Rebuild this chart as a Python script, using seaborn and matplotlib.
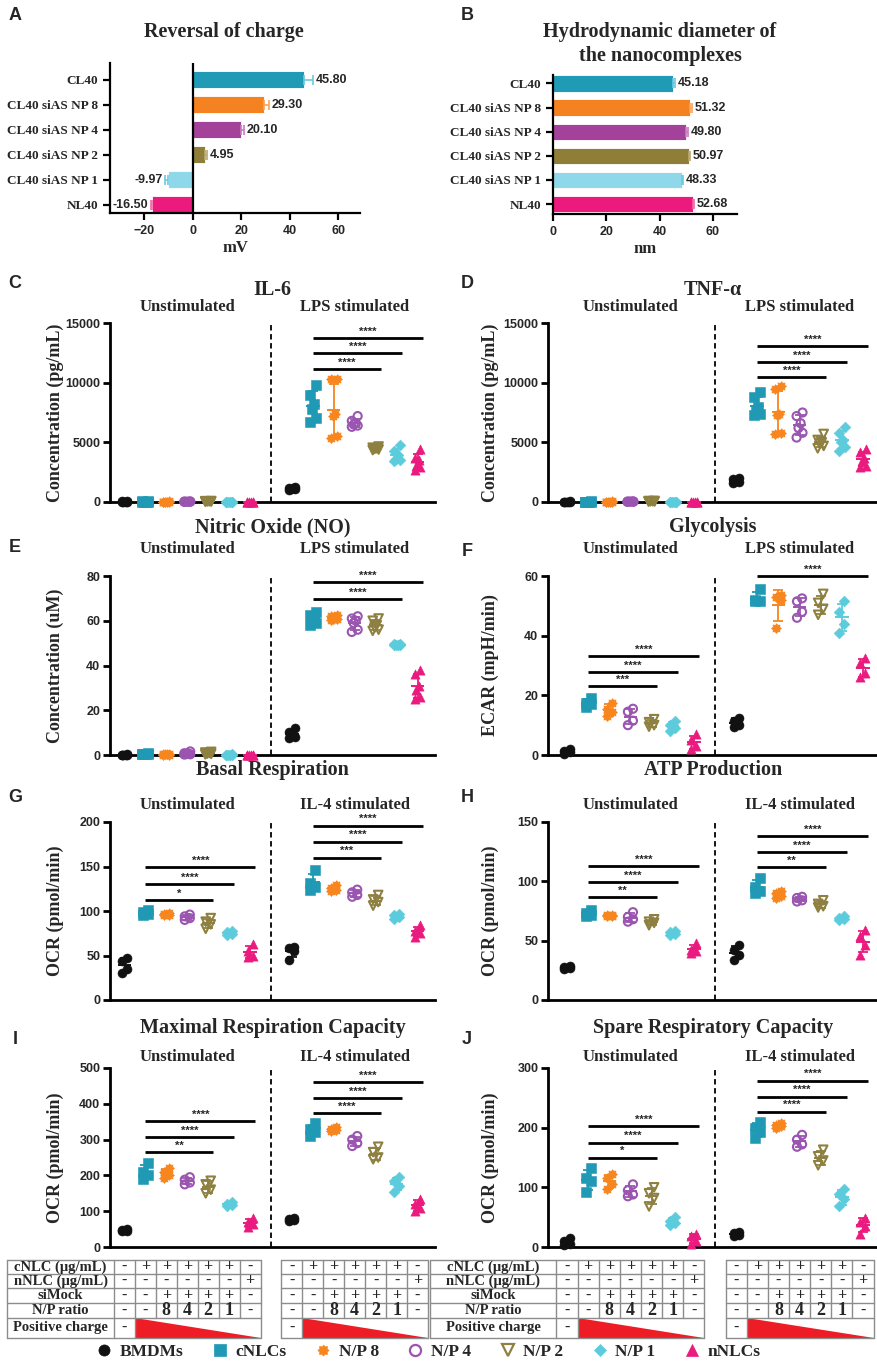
import numpy as np
import matplotlib
matplotlib.use('Agg')
import matplotlib.pyplot as plt
import seaborn as sns
from matplotlib.lines import Line2D
from matplotlib.patches import Polygon
from matplotlib import transforms

sns.set_style('ticks')
plt.rcParams['font.family'] = ['Liberation Serif', 'DejaVu Serif']
plt.rcParams['font.weight'] = 'bold'
SANS = ['Liberation Sans', 'DejaVu Sans']

W, H = 878, 1365

# ---------------- data ----------------
groups = ['BMDMs', 'cNLCs', 'N/P 8', 'N/P 4', 'N/P 2', 'N/P 1', 'nNLCs']

bar_labels = ['CL40', 'CL40 siAS NP 8', 'CL40 siAS NP 4', 'CL40 siAS NP 2',
              'CL40 siAS NP 1', 'NL40']
charge_mv = [45.80, 29.30, 20.10, 4.95, -9.97, -16.50]
charge_sd = [3.8, 2.2, 1.0, 1.0, 1.2, 0.8]
size_nm = [45.18, 51.32, 49.80, 50.97, 48.33, 52.68]
size_sd = [0.5, 0.9, 0.7, 0.4, 0.3, 0.3]

il6_unstim = [[40, 20, 60, 30, 10, 50], [30, 50, 20, 40, 10, 60], [20, 40, 30, 10, 50, 30],
              [30, 20, 40, 50, 10, 20], [60, 80, 40, 30, 70, 50], [20, 10, 30, 40, 20, 10],
              [10, 20, 30, 10, 20, 30]]
il6_lps = [[1000, 1100, 1250, 1150, 1050, 1200], [9800, 9000, 8200, 7800, 7000, 6700],
           [10300, 10300, 7400, 7200, 5500, 5400], [7200, 6800, 6600, 6500, 6400, 6300],
           [4650, 4550, 4500, 4450, 4400, 4350], [4800, 4300, 3900, 3600, 3400, 3500],
           [4400, 3700, 3500, 3000, 2900, 2700]]
il6_sig = [(8, 4, 11150, '****'), (8, 5, 12500, '****'), (8, 6, 13750, '****')]

tnf_unstim = [[30, 50, 20, 40, 10, 30], [40, 20, 30, 50, 10, 20], [30, 10, 40, 20, 50, 30],
              [20, 40, 30, 10, 50, 40], [70, 50, 90, 60, 40, 80], [20, 30, 10, 40, 20, 30],
              [10, 30, 20, 10, 30, 20]]
tnf_lps = [[1700, 1900, 2000, 1800, 1600, 1750], [9200, 8800, 8000, 7700, 7400, 7300],
           [9700, 9500, 7400, 7300, 5800, 5700], [7500, 7200, 6600, 6200, 5800, 5400],
           [5700, 5200, 5000, 4900, 4700, 4500], [6300, 5800, 5200, 5000, 4600, 4300],
           [4400, 4200, 3700, 3400, 3000, 2900]]
tnf_sig = [(8, 4, 10480, '****'), (8, 5, 11740, '****'), (8, 6, 13080, '****')]

no_unstim = [[0.2, 0.1, 0.3, 0.0, 0.2, 0.1], [0.6, 0.4, 0.5, 0.3, 0.7, 0.5],
             [0.3, 0.5, 0.2, 0.4, 0.1, 0.3], [1.6, 0.8, 0.4, 0.2, 0.6, 0.3],
             [1.4, 0.9, 0.6, 0.3, 1.1, 0.5], [0.2, 0.1, 0.3, 0.1, 0.2, 0.0],
             [0.1, 0.0, 0.2, 0.1, 0.0, 0.1]]
no_lps = [[12, 10.5, 9, 8, 7.5, 8.5], [64, 62.5, 61, 60, 59, 58],
          [62.5, 62, 61.5, 61, 60.8, 60.5], [62, 61, 60, 59, 56, 55],
          [61, 60, 58, 57, 56, 55.5], [49.6, 49.4, 49.2, 49.0, 49.1, 49.3],
          [38, 36, 31, 29, 26, 25]]
no_sig = [(8, 5, 69.7, '****'), (8, 6, 77.4, '****')]

ecar_unstim = [[2.0, 1.5, 1.0, 0.5], [19.0, 17.5, 17.0, 16.0], [17.5, 15.5, 14.5, 13.0],
               [15.5, 14.5, 11.5, 10.0], [12.0, 11.0, 10.0, 9.5], [11.5, 10.0, 9.0, 8.0],
               [7.0, 5.0, 3.0, 2.0]]
ecar_lps = [[12.5, 11.5, 10.0, 9.5], [55.5, 52.0, 51.5, 51.5], [53.5, 53.0, 52.0, 42.5],
            [52.5, 51.5, 48.0, 46.0], [54.0, 51.0, 49.0, 47.0], [51.5, 48.0, 44.0, 41.0],
            [32.5, 31.0, 27.5, 26.0]]
ecar_sig = [(0, 4, 23, '***'), (0, 5, 27.8, '****'), (0, 6, 33.1, '****'), (8, 6, 60, '****')]

basal_unstim = [[47, 44, 35, 30], [101, 99, 97, 96], [98, 97, 96, 95], [96, 94, 92, 90],
                [92, 88, 85, 80], [77, 76, 74, 73], [63, 55, 50, 48]]
basal_il4 = [[60, 58, 55, 45], [146, 132, 127, 124], [129, 126, 124, 123],
             [124, 121, 118, 116], [118, 113, 110, 106], [97, 95, 93, 91], [84, 78, 75, 71]]
basal_sig = [(0, 4, 112, '*'), (0, 5, 130, '****'), (0, 6, 149, '****'),
             (8, 4, 160, '***'), (8, 5, 178, '****'), (8, 6, 196, '****')]

atp_unstim = [[29, 28, 27, 26], [76, 73, 72, 71], [72, 71.5, 71, 70.5], [74, 70, 68, 66],
              [68, 66, 65, 63], [58, 57, 56, 55], [48, 42, 41, 40]]
atp_il4 = [[46, 42, 38, 34], [103, 95, 92, 90], [92, 90, 88, 86], [87, 86, 84, 83],
           [84, 81, 79, 78], [71, 69, 68, 67], [59, 54, 46, 38]]
atp_sig = [(0, 4, 86.7, '**'), (0, 5, 99.6, '****'), (0, 6, 112.6, '****'),
           (8, 4, 112, '**'), (8, 5, 124.7, '****'), (8, 6, 138.2, '****')]

max_unstim = [[50, 47, 45, 44], [235, 210, 200, 190], [220, 210, 200, 192],
              [195, 188, 180, 175], [185, 175, 160, 150], [125, 120, 116, 114],
              [80, 70, 65, 55]]
max_il4 = [[82, 78, 75, 72], [345, 330, 320, 310], [335, 330, 327, 323],
           [310, 300, 290, 282], [280, 265, 250, 245], [195, 185, 170, 155],
           [135, 120, 110, 100]]
max_sig = [(0, 4, 264.5, '**'), (0, 5, 306.7, '****'), (0, 6, 351.8, '****'),
           (8, 4, 373, '****'), (8, 5, 415.6, '****'), (8, 6, 460.6, '****')]

spare_unstim = [[15, 10, 5, 3], [132, 115, 110, 92], [122, 115, 105, 98], [105, 95, 88, 85],
                [100, 90, 82, 68], [50, 43, 40, 37], [22, 18, 10, 5]]
spare_il4 = [[25, 23, 20, 18], [210, 200, 192, 182], [207, 205, 203, 200],
             [188, 180, 172, 168], [163, 152, 145, 137], [98, 88, 80, 68], [48, 42, 35, 22]]
spare_sig = [(0, 4, 149.7, '*'), (0, 5, 175, '****'), (0, 6, 202, '****'),
             (8, 4, 226.8, '****'), (8, 5, 252, '****'), (8, 6, 279, '****')]

table_labels = ['cNLC (μg/mL)', 'nNLC (μg/mL)', 'siMock', 'N/P ratio', 'Positive charge']
cnlc_row = ['-', '+', '+', '+', '+', '+', '-']
nnlc_row = ['-', '-', '-', '-', '-', '-', '+']
simock_row = ['-', '-', '+', '+', '+', '+', '-']
np_row = ['-', '-', '8', '4', '2', '1', '-']

# ---------------- styles ----------------
colors = ['#111111', '#1f99b4', '#f7861f', '#9a55b0', '#8e8040', '#5ccbdc', '#ea1a7f']
bar_colors = ['#1f9bb5', '#f58220', '#a4419a', '#8e7e38', '#8fd8e9', '#ec1a7c']
err_colors = ['#6cc8de', '#f9a45a', '#c77bbf', '#b8a970', '#6ccbe0', '#f36aa8']

ang = np.linspace(0, 2 * np.pi, 17)[:-1]
rad = np.where(np.arange(16) % 2 == 0, 1.0, 0.72)
flower = np.column_stack([rad * np.sin(ang), rad * np.cos(ang)])
markers = ['o', 's', flower, 'o', 'v', 'D', '^']
filled = [True, True, True, False, False, True, True]
msize = [42, 48, 52, 34, 38, 30, 44]
spread = {4: [0.12, -0.12, 0.12, -0.12], 6: [0.14, -0.14, 0.05, -0.05, 0.14, -0.14]}


def box(l, t, r, b):
    return [l / W, 1 - b / H, (r - l) / W, (b - t) / H]


fig = plt.figure(figsize=(W / 100, H / 100), dpi=100)


def sans_ticks(ax, size=9):
    for lab in ax.get_xticklabels() + ax.get_yticklabels():
        lab.set_fontfamily(SANS)
        lab.set_fontweight('bold')
        lab.set_fontsize(size)


# ---------------- A and B: bar charts ----------------
def bar_panel(rect, vals, sds, xlim, ylim, xticks, xlabel, zero_line):
    ax = fig.add_axes(rect)
    sns.barplot(x=vals, y=bar_labels, hue=bar_labels, palette=bar_colors, legend=False,
                width=0.68, saturation=1, errorbar=None, edgecolor='white',
                linewidth=0.6, ax=ax)
    for i, (v, e) in enumerate(zip(vals, sds)):
        lo, hi = (e, 0) if v < 0 else (0, e)
        ax.errorbar(v, i, xerr=[[lo], [hi]], fmt='none', ecolor=err_colors[i],
                    elinewidth=1.2, capsize=3.5, capthick=1.2)
        if v >= 0:
            ax.text(v + e + 1.0, i, f'{v:.2f}', ha='left', va='center',
                    fontfamily=SANS, fontweight='bold', fontsize=9)
        else:
            ax.text(v - e - 1.0, i, f'{v:.2f}', ha='right', va='center',
                    fontfamily=SANS, fontweight='bold', fontsize=9)
    if zero_line:
        ax.axvline(0, color='black', lw=1.6)
    ax.set_xlim(*xlim)
    ax.set_ylim(*ylim)
    ax.set_xticks(xticks)
    ax.set_ylabel('')
    ax.set_xlabel(xlabel, fontsize=12, fontweight='bold', labelpad=2)
    sns.despine(ax=ax)
    for s in ('left', 'bottom'):
        ax.spines[s].set_linewidth(1.6)
        ax.spines[s].set_color('black')
    ax.tick_params(width=1.6, length=5, color='black')
    sans_ticks(ax)
    for lab in ax.get_yticklabels():
        lab.set_fontfamily(plt.rcParams['font.family'])
        lab.set_fontsize(9.5)
    return ax


bar_panel(box(110, 63, 360, 213), charge_mv, charge_sd, (-34, 69), (5.34, -0.68),
          [-20, 0, 20, 40, 60], 'mV', True)
bar_panel(box(553, 75, 737, 214), size_nm, size_sd, (0, 69), (5.41, -0.35),
          [0, 20, 40, 60], 'nm', False)
fig.text(224 / W, 1 - 32 / H, 'Reversal of charge', ha='center', va='center',
         fontsize=14.5, fontweight='bold')
fig.text(660 / W, 1 - 44 / H, 'Hydrodynamic diameter of\nthe nanocomplexes', ha='center',
         va='center', fontsize=14.5, fontweight='bold', linespacing=1.25)


# ---------------- C - J: scatter panels ----------------
def chart(col, row, unstim, stim, ymax, yticks, ylabel, title, stim_name, sig):
    top, bot = row
    if col == 0:
        l, r, p0, d, lab_x = 110, 435, 124.5, 20.93, 64
    else:
        l, r, p0, d, lab_x = 548, 890, 567, 21.14, 499
    ax = fig.add_axes(box(l, top, r, bot))
    ax.set_xlim((l - p0) / d, (r - p0) / d)
    ax.set_ylim(0, ymax)
    for start, data in ((0, unstim), (8, stim)):
        for i, vals in enumerate(data):
            vals = np.asarray(vals, float)
            n = len(vals)
            offs = np.zeros(n)
            offs[np.argsort(-vals)] = spread[n]
            xs = start + i + offs
            c = colors[i]
            if filled[i]:
                sns.scatterplot(x=xs, y=vals, marker=markers[i], color=c, s=msize[i],
                                edgecolor=c, linewidth=0.4, ax=ax, clip_on=False,
                                zorder=4, legend=False)
            else:
                sns.scatterplot(x=xs, y=vals, marker=markers[i], color=c, s=msize[i],
                                facecolor='none', edgecolor=c, linewidth=1.5, ax=ax,
                                clip_on=False, zorder=4, legend=False)
            m, sd = vals.mean(), vals.std(ddof=1)
            ax.errorbar(start + i, m, yerr=sd, fmt='none', ecolor=c, elinewidth=1.3,
                        capsize=3.5, capthick=1.3, clip_on=False, zorder=5)
            ax.hlines(m, start + i - 0.32, start + i + 0.32, color=c, lw=1.4, zorder=5,
                      clip_on=False)
    ax.axvline(7, color='black', lw=1.3, ls=(0, (3, 2)))
    for start, tgt, y, stars in sig:
        x0, x1 = start + 1, start + tgt + 0.25
        ax.plot([x0, x1], [y, y], color='black', lw=2, clip_on=False,
                solid_capstyle='butt')
        ax.text((x0 + x1) / 2, y + ymax * 0.008, stars, ha='center', va='bottom',
                fontfamily=SANS, fontweight='bold', fontsize=8, clip_on=False)
    ax.set_xticks([])
    ax.set_yticks(yticks)
    sans_ticks(ax)
    sns.despine(ax=ax)
    for s in ('left', 'bottom'):
        ax.spines[s].set_linewidth(2)
        ax.spines[s].set_color('black')
    ax.tick_params(axis='y', width=2, length=5, color='black', pad=2)
    ax.set_ylabel(ylabel, fontsize=13, fontweight='bold')
    ax.yaxis.set_label_coords((lab_x - l) / (r - l), 0.5)
    tr = transforms.blended_transform_factory(ax.transData, fig.transFigure)
    sub_y = {323: 307, 576: 549, 822: 805, 1068: 1057}[top]
    title_y = {323: 290, 576: 527, 822: 770, 1068: 1028}[top]
    ax.text(3, 1 - sub_y / H, 'Unstimulated', transform=tr, ha='center', va='center',
            fontsize=12, fontweight='bold')
    ax.text(11, 1 - sub_y / H, stim_name, transform=tr, ha='center', va='center',
            fontsize=12, fontweight='bold')
    cx = (l + min(r, W)) / 2
    fig.text(cx / W, 1 - title_y / H, title, ha='center', va='center', fontsize=14.5,
             fontweight='bold')
    return ax


rowC, rowE, rowG, rowI = (323, 502), (576, 755), (822, 1000), (1068, 1247)
chart(0, rowC, il6_unstim, il6_lps, 15000, [0, 5000, 10000, 15000],
      'Concentration (pg/mL)', 'IL-6', 'LPS stimulated', il6_sig)
chart(1, rowC, tnf_unstim, tnf_lps, 15000, [0, 5000, 10000, 15000],
      'Concentration (pg/mL)', 'TNF-α', 'LPS stimulated', tnf_sig)
chart(0, rowE, no_unstim, no_lps, 80, [0, 20, 40, 60, 80],
      'Concentration (uM)', 'Nitric Oxide (NO)', 'LPS stimulated', no_sig)
chart(1, rowE, ecar_unstim, ecar_lps, 60, [0, 20, 40, 60],
      'ECAR (mpH/min)', 'Glycolysis', 'LPS stimulated', ecar_sig)
chart(0, rowG, basal_unstim, basal_il4, 200, [0, 50, 100, 150, 200],
      'OCR (pmol/min)', 'Basal Respiration', 'IL-4 stimulated', basal_sig)
chart(1, rowG, atp_unstim, atp_il4, 150, [0, 50, 100, 150],
      'OCR (pmol/min)', 'ATP Production', 'IL-4 stimulated', atp_sig)
axI = chart(0, rowI, max_unstim, max_il4, 500, [0, 100, 200, 300, 400, 500],
            'OCR (pmol/min)', 'Maximal Respiration Capacity', 'IL-4 stimulated', max_sig)
axJ = chart(1, rowI, spare_unstim, spare_il4, 300, [0, 100, 200, 300],
            'OCR (pmol/min)', 'Spare Respiratory Capacity', 'IL-4 stimulated', spare_sig)

# panel letters
for letter, x, y in [('A', 15, 15), ('B', 467, 15), ('C', 15, 283), ('D', 467, 283),
                     ('E', 15, 547), ('F', 467, 551), ('G', 15, 798), ('H', 467, 798),
                     ('I', 15, 1040), ('J', 467, 1040)]:
    fig.text(x / W, 1 - y / H, letter, ha='center', va='center', fontfamily=SANS,
             fontweight='bold', fontsize=13)


# ---------------- condition tables ----------------
def draw_table(ax, label_left_px):
    tr = transforms.blended_transform_factory(ax.transData, fig.transFigure)
    ys = [1 - v / H for v in (1260, 1274, 1288, 1303, 1318, 1338)]
    inv = ax.transData.inverted()
    lab_left = inv.transform(fig.transFigure.transform((label_left_px / W, 0)))[0]
    kw = dict(transform=tr, color='#8c8c8c', lw=1, clip_on=False)
    rows = [cnlc_row, nnlc_row, simock_row, np_row]
    for start in (0, 8):
        xl = lab_left if start == 0 else start - 0.5
        xr = start + 6.5
        for y in ys:
            ax.plot([xl, xr], [y, y], **kw)
        edges = [start - 0.5 + k for k in range(8)]
        if start == 0:
            edges = [lab_left] + edges
        for xe in edges:
            inner = start + 0.6 < xe < start + 6.4
            ax.plot([xe, xe], [ys[0], ys[4] if inner else ys[5]], **kw)
        for r, vals in enumerate(rows):
            for k, v in enumerate(vals):
                ax.text(start + k, (ys[r] + ys[r + 1]) / 2, v, transform=tr,
                        ha='center', va='center', fontweight='bold',
                        fontsize=13 if v.isdigit() else 11.5)
        ax.text(start, (ys[4] + ys[5]) / 2, '-', transform=tr, ha='center',
                va='center', fontweight='bold', fontsize=11.5)
        ax.add_patch(Polygon([(start + 0.5, ys[4]), (start + 0.5, ys[5]),
                              (start + 6.5, ys[5])], closed=True, transform=tr,
                             facecolor='#ee1c25', edgecolor='none', clip_on=False))
    for r, lab in enumerate(table_labels):
        ax.text((lab_left - 0.5) / 2, (ys[r] + ys[r + 1]) / 2, lab, transform=tr,
                ha='center', va='center', fontweight='bold', fontsize=10.5)


draw_table(axI, 7)
draw_table(axJ, 430)

# ---------------- legend ----------------
handles = []
for i, g in enumerate(groups):
    handles.append(Line2D([], [], ls='none', marker=markers[i], color=colors[i],
                          markersize=8 if i != 5 else 6.5,
                          markerfacecolor=colors[i] if filled[i] else 'none',
                          markeredgewidth=1.6 if not filled[i] else 0.5))
fig.legend(handles, groups, loc='center', bbox_to_anchor=(428 / W, 1 - 1352 / H),
           ncol=7, frameon=False, prop={'family': 'Liberation Serif', 'weight': 'bold',
                                         'size': 12.5},
           handletextpad=0.4, columnspacing=1.6, handlelength=1.0)

fig.savefig('out.png', dpi=100)
